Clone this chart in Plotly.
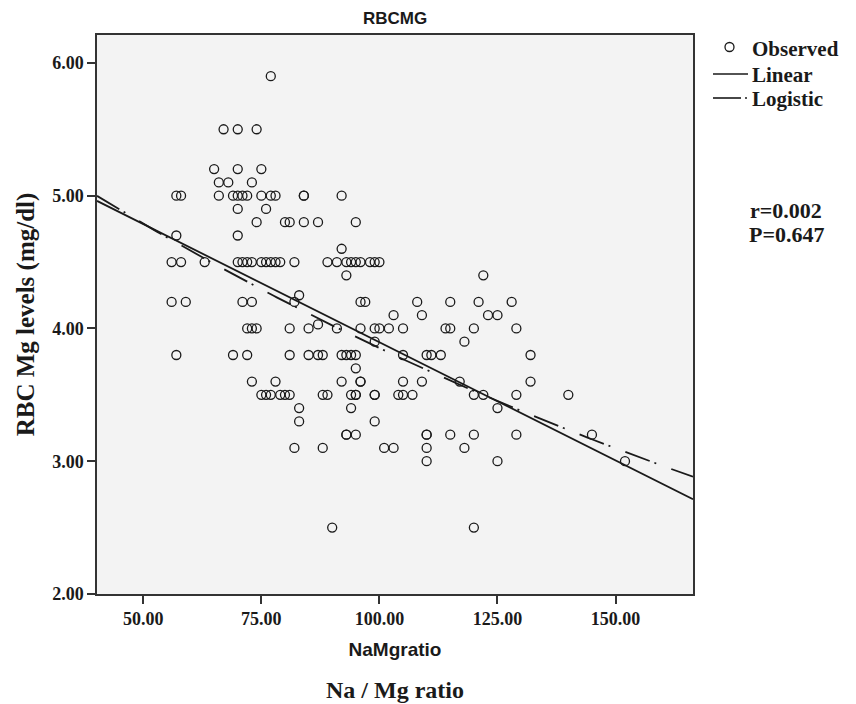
import numpy as np
import plotly.graph_objects as go

# ---- data (RBC Mg level rows and the Na/Mg ratios at each level)
row_levels = [5.9, 5.5, 5.2, 5.1, 5.0, 4.9, 4.8, 4.7, 4.6, 4.5, 4.4, 4.25, 4.2, 4.1, 4.03,
              4.0, 3.9, 3.8, 3.7, 3.6, 3.5, 3.4, 3.3, 3.2, 3.1, 3.0, 2.5]
row_ratios = [
    [77],
    [67, 70, 74],
    [65, 70, 75],
    [66, 68, 73],
    [57, 58, 66, 69, 70, 71, 72, 75, 77, 78, 84, 84, 92],
    [70, 76],
    [74, 80, 81, 84, 87, 95],
    [57, 70],
    [92],
    [56, 58, 63, 70, 71, 72, 73, 75, 76, 77, 78, 79, 82, 89, 91, 93, 94, 95, 96, 98, 99, 100],
    [93, 122],
    [83],
    [56, 59, 71, 73, 82, 96, 97, 108, 115, 121, 128],
    [103, 109, 123, 125],
    [87],
    [72, 73, 74, 81, 85, 91, 96, 99, 100, 102, 105, 114, 115, 120, 129],
    [99, 118],
    [57, 69, 72, 81, 85, 87, 88, 92, 93, 94, 95, 105, 110, 111, 113, 132],
    [95],
    [73, 78, 92, 96, 96, 105, 109, 117, 132],
    [75, 76, 77, 79, 80, 81, 88, 89, 94, 95, 95, 99, 99, 104, 105, 107, 120, 122, 129, 140],
    [83, 94, 125],
    [83, 99],
    [93, 93, 95, 110, 110, 115, 120, 129, 145],
    [82, 88, 101, 103, 110, 118],
    [110, 125, 152],
    [90, 120],
]

# fitted model coefficients
linear_coef = [5.676, -0.0178]          # y = b0 + b1 * x
logistic_coef = [0.1679, 1.00437]       # y = 1 / (b0 * b1 ** x)

x_range = [40.2, 166.4]
y_range = [2.0, 6.21]
x_tickvals = [50, 75, 100, 125, 150]
x_ticktext = ["50.00", "75.00", "100.00", "125.00", "150.00"]
y_tickvals = [2, 3, 4, 5, 6]
y_ticktext = ["2.00", "3.00", "4.00", "5.00", "6.00"]
legend_labels = ["Observed", "Linear", "Logistic"]
stats_labels = ["r=0.002", "P=0.647"]

na_mg_ratio = [r for rs in row_ratios for r in rs]
rbc_mg = [lvl for lvl, rs in zip(row_levels, row_ratios) for _ in rs]

INK = "#1a1a1a"
SERIF = "Liberation Serif"
SANS = "Liberation Sans"
LOG_DASH = "26px,5px,2px,16px"

W, H = 856, 704
L, R, T, B = 97, 163, 35, 110
PW, PH = W - L - R, H - T - B


def px(xp):
    return (xp - L) / PW


def py(yp):
    return (H - B - yp) / PH


fit_x = np.linspace(x_range[0], x_range[1], 200)
lin_y = linear_coef[0] + linear_coef[1] * fit_x
log_y = 1.0 / (logistic_coef[0] * logistic_coef[1] ** fit_x)

fig = go.Figure()
fig.add_trace(go.Scatter(
    x=na_mg_ratio, y=rbc_mg, mode="markers", name=legend_labels[0],
    marker=dict(symbol="circle-open", size=9, color=INK, line=dict(width=1.3, color=INK)),
))
fig.add_trace(go.Scatter(
    x=fit_x, y=lin_y, mode="lines", name=legend_labels[1],
    line=dict(color=INK, width=1.8),
))
fig.add_trace(go.Scatter(
    x=fit_x, y=log_y, mode="lines", name=legend_labels[2],
    line=dict(color=INK, width=1.8, dash=LOG_DASH),
))

axis_common = dict(
    showgrid=False, zeroline=False, showline=True, mirror=True,
    linecolor="#333333", linewidth=1.5,
    ticks="outside", ticklen=8, tickwidth=1.5, tickcolor="#333333",
    tickfont=dict(family=SERIF, size=18, weight="bold", color=INK),
)

fig.update_xaxes(
    range=x_range, tickvals=x_tickvals, ticktext=x_ticktext,
    title=dict(text="NaMgratio", standoff=14,
               font=dict(family=SANS, size=19, weight="bold", color=INK)),
    **axis_common,
)
fig.update_yaxes(
    range=y_range, tickvals=y_tickvals, ticktext=y_ticktext,
    title=dict(text="RBC Mg levels (mg/dl)", standoff=10,
               font=dict(family=SERIF, size=25, weight="bold", color=INK)),
    **axis_common,
)

fig.update_layout(
    width=W, height=H,
    margin=dict(l=L, r=R, t=T, b=B, autoexpand=False),
    paper_bgcolor="white", plot_bgcolor="#f3f3f3",
    title=dict(text="RBCMG", x=0.5, xref="paper", xanchor="center",
               y=1 - 18 / H, yref="container", yanchor="middle",
               font=dict(family=SANS, size=17, weight="bold", color=INK)),
    showlegend=False,
)

# ---- legend drawn by hand (SPSS style, tight rows)
legend_font = dict(family=SERIF, size=21, weight="bold", color=INK)
text_x = px(750)
row_y = [49, 75, 99]
fig.add_shape(type="circle", xref="paper", yref="paper",
              x0=px(725), x1=px(734), y0=py(51.5), y1=py(42.5),
              line=dict(color=INK, width=1.3))
fig.add_shape(type="line", xref="paper", yref="paper",
              x0=px(713), x1=px(748), y0=py(74), y1=py(74),
              line=dict(color=INK, width=1.6))
fig.add_shape(type="line", xref="paper", yref="paper",
              x0=px(713), x1=px(741), y0=py(98), y1=py(98),
              line=dict(color=INK, width=1.6))
fig.add_shape(type="line", xref="paper", yref="paper",
              x0=px(745), x1=px(747), y0=py(98), y1=py(98),
              line=dict(color=INK, width=1.6))
for lab, yy in zip(legend_labels, row_y):
    fig.add_annotation(text=lab, xref="paper", yref="paper", x=text_x, y=py(yy),
                       xanchor="left", yanchor="middle", showarrow=False, font=legend_font)

fig.add_annotation(text="Na / Mg ratio", xref="paper", yref="paper",
                   x=0.5, y=py(690), xanchor="center", yanchor="middle",
                   showarrow=False, font=dict(family=SERIF, size=24, weight="bold", color=INK))
for lab, yy in zip(stats_labels, [210, 234]):
    fig.add_annotation(text=lab, xref="paper", yref="paper",
                       x=px(786), y=py(yy), xanchor="center", yanchor="middle",
                       showarrow=False, font=dict(family=SERIF, size=22, weight="bold", color=INK))

fig.write_html("out.html")
